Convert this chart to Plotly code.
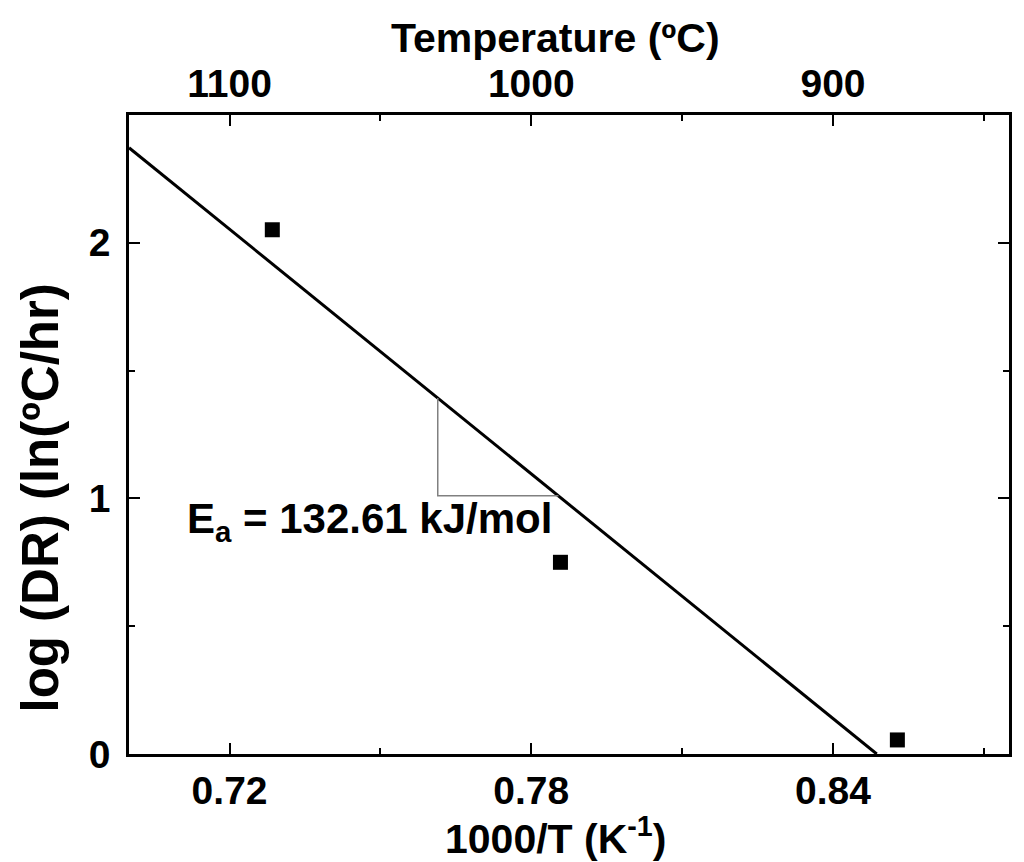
import plotly.graph_objects as go

# Data
inv_T = [0.7285, 0.7858, 0.8528]          # 1000/T (K^-1)
log_dr = [2.051, 0.750, 0.055]            # log (DR) (ln(ºC/hr))
fit_x = [0.700, 0.8487]                   # Arrhenius fit line end points
fit_y = [2.372, 0.000]
tri_x = [0.7614, 0.7614, 0.7854]          # slope triangle
tri_y = [1.393, 1.010, 1.010]
x_ticks = [0.72, 0.78, 0.84]
x_tick_labels = ["0.72", "0.78", "0.84"]
temp_ticks = [1100, 1000, 900]
temp_tick_labels = ["1100", "1000", "900"]
y_ticks = [0, 1, 2]
y_tick_labels = ["0", "1", "2"]

FONT = "Arial, Liberation Sans, sans-serif"
fig = go.Figure()

fig.add_trace(go.Scatter(x=fit_x, y=fit_y, mode="lines",
                         line=dict(color="black", width=3), showlegend=False))
fig.add_trace(go.Scatter(x=tri_x, y=tri_y, mode="lines",
                         line=dict(color="#808080", width=1.5), showlegend=False))
fig.add_trace(go.Scatter(x=inv_T, y=log_dr, mode="markers",
                         marker=dict(symbol="square", size=15, color="black"),
                         showlegend=False))
# invisible trace for top temperature axis
fig.add_trace(go.Scatter(x=temp_ticks, y=[None, None, None], xaxis="x2",
                         mode="markers", showlegend=False, hoverinfo="skip"))

tickfont = dict(family=FONT, size=39, color="black", weight="bold")
axis_common = dict(showline=True, linecolor="black", linewidth=2.5,
                   ticks="inside", ticklen=11, tickwidth=2, tickcolor="black",
                   showgrid=False, zeroline=False, tickfont=tickfont)
minor_common = dict(ticks="inside", ticklen=6, tickwidth=2, tickcolor="black")

fig.update_layout(
    width=1024, height=862,
    margin=dict(l=121, r=23, t=107, b=116),
    paper_bgcolor="white", plot_bgcolor="white",
    xaxis=dict(range=[0.700, 0.875], tickvals=x_ticks, ticktext=x_tick_labels,
               minor=dict(tickvals=[0.75, 0.81, 0.87], **minor_common),
               ticklabelstandoff=0, **axis_common),
    xaxis2=dict(overlaying="x", side="top",
                range=[1133.33, 841.67], tickvals=temp_ticks, ticktext=temp_tick_labels,
                minor=dict(tickvals=[1050, 950, 850], **minor_common),
                ticklabelstandoff=0, **axis_common),
    yaxis=dict(range=[0, 2.5], tickvals=y_ticks, ticktext=y_tick_labels,
               mirror="ticks",
               minor=dict(tickvals=[0.5, 1.5, 2.5], **minor_common),
               ticklabelstandoff=8, **axis_common),
)

fig.add_annotation(text="E<sub>a</sub> = 132.61 kJ/mol", x=0.7111, y=0.908,
                   xref="x", yref="y", xanchor="left", yanchor="middle",
                   showarrow=False,
                   font=dict(family=FONT, size=42, color="black", weight="bold"))
fig.add_annotation(text="Temperature (ºC)", x=0.485, y=1.1207, xref="paper", yref="paper",
                   xanchor="center", yanchor="middle", showarrow=False,
                   font=dict(family=FONT, size=41, color="black", weight="bold"))
fig.add_annotation(text="1000/T (K<sup>-1</sup>)", x=0.485, y=-0.1285, xref="paper", yref="paper",
                   xanchor="center", yanchor="middle", showarrow=False,
                   font=dict(family=FONT, size=41, color="black", weight="bold"))
fig.add_annotation(text="log (DR) (ln(ºC/hr)", x=-0.1010, y=0.40, xref="paper", yref="paper",
                   xanchor="center", yanchor="middle", showarrow=False, textangle=-90,
                   font=dict(family=FONT, size=51, color="black", weight="bold"))

fig.write_html("out.html")
